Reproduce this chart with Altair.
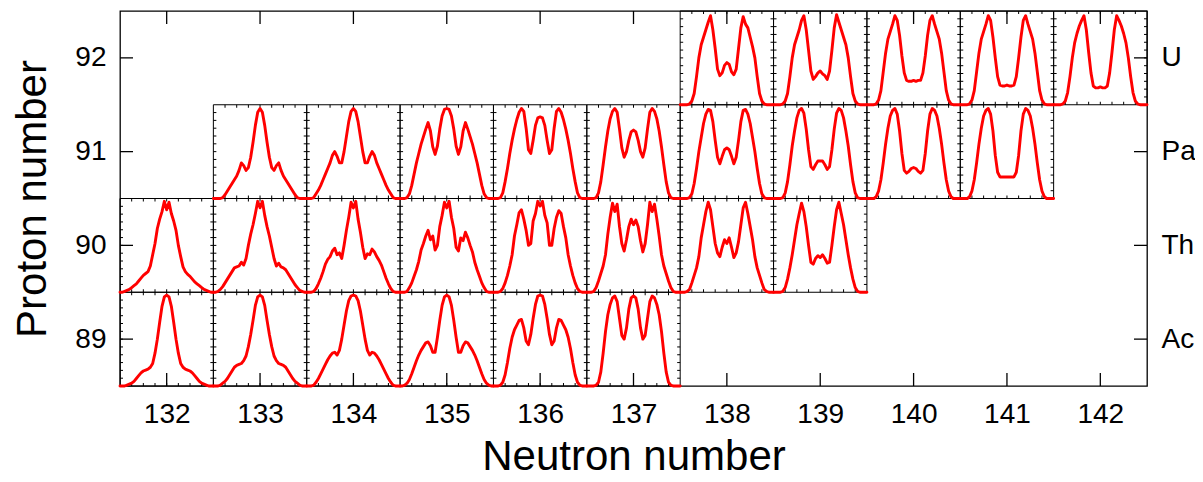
import altair as alt
import pandas as pd

# ---------------- data ----------------
neutron_ticks = list(range(132, 143))
proton_ticks = [89, 90, 91, 92]
element_symbols = ["Ac", "Th", "Pa", "U"]

# curves: value (fraction of cell height) sampled evenly across each cell
ac132 = [0,0,0,0.01,0.02,0.03,0.05,0.08,0.11,0.14,0.16,0.17,0.18,0.2,0.24,0.35,0.5,0.68,0.85,0.95,0.97,0.95,0.85,0.68,0.5,0.35,0.24,0.2,0.18,0.17,0.16,0.14,0.11,0.08,0.05,0.03,0.02,0.01,0,0,0]
ac133 = [0,0,0,0.01,0.03,0.05,0.08,0.12,0.16,0.2,0.22,0.23,0.24,0.27,0.32,0.42,0.55,0.7,0.86,0.95,0.97,0.95,0.86,0.7,0.55,0.42,0.32,0.27,0.24,0.23,0.22,0.2,0.16,0.12,0.08,0.05,0.03,0.01,0,0,0]
ac134 = [0,0,0,0.01,0.04,0.08,0.13,0.18,0.23,0.28,0.32,0.35,0.36,0.33,0.38,0.5,0.65,0.8,0.91,0.96,0.97,0.96,0.91,0.8,0.65,0.5,0.38,0.33,0.36,0.35,0.32,0.28,0.23,0.18,0.13,0.08,0.04,0.01,0,0,0]
ac135 = [0,0,0.01,0.03,0.07,0.13,0.2,0.27,0.33,0.38,0.42,0.46,0.47,0.43,0.36,0.36,0.52,0.7,0.86,0.95,0.97,0.95,0.86,0.7,0.52,0.36,0.36,0.43,0.47,0.46,0.42,0.38,0.33,0.27,0.2,0.13,0.07,0.03,0.01,0,0]
ac136 = [0,0,0,0.01,0.04,0.12,0.25,0.4,0.52,0.6,0.65,0.7,0.71,0.62,0.48,0.44,0.55,0.72,0.87,0.96,0.97,0.96,0.87,0.72,0.55,0.44,0.48,0.62,0.71,0.7,0.65,0.6,0.52,0.4,0.25,0.12,0.04,0.01,0,0,0]
ac137 = [0,0,0,0,0.01,0.04,0.15,0.35,0.58,0.76,0.87,0.94,0.96,0.9,0.72,0.54,0.5,0.62,0.82,0.94,0.96,0.94,0.82,0.62,0.5,0.54,0.72,0.9,0.96,0.94,0.87,0.76,0.58,0.35,0.15,0.04,0.01,0,0,0,0]

th132 = [0,0,0.01,0.02,0.03,0.05,0.07,0.09,0.12,0.15,0.18,0.2,0.22,0.28,0.4,0.52,0.68,0.78,0.86,0.97,0.88,0.96,0.84,0.76,0.66,0.5,0.38,0.27,0.22,0.19,0.17,0.14,0.11,0.09,0.07,0.05,0.03,0.02,0.01,0,0]
th133 = [0,0,0.01,0.03,0.06,0.1,0.14,0.18,0.22,0.26,0.27,0.28,0.32,0.29,0.36,0.5,0.62,0.72,0.84,0.97,0.9,0.97,0.82,0.7,0.6,0.48,0.36,0.28,0.31,0.27,0.26,0.24,0.2,0.16,0.12,0.08,0.05,0.02,0.01,0,0]
th134 = [0,0,0,0.01,0.04,0.09,0.15,0.22,0.3,0.35,0.38,0.44,0.47,0.4,0.42,0.36,0.5,0.66,0.8,0.96,0.9,0.97,0.78,0.64,0.48,0.36,0.41,0.4,0.46,0.43,0.38,0.34,0.29,0.22,0.15,0.09,0.04,0.01,0,0,0]
th135 = [0,0,0,0.01,0.05,0.1,0.17,0.24,0.33,0.45,0.52,0.6,0.66,0.56,0.6,0.45,0.5,0.7,0.82,0.96,0.9,0.97,0.8,0.68,0.48,0.44,0.58,0.55,0.64,0.58,0.5,0.43,0.32,0.24,0.17,0.1,0.05,0.01,0,0,0]
th136 = [0,0,0,0.01,0.04,0.1,0.18,0.28,0.4,0.6,0.72,0.85,0.88,0.78,0.66,0.5,0.52,0.76,0.84,0.97,0.92,0.97,0.82,0.74,0.5,0.5,0.68,0.8,0.87,0.84,0.7,0.58,0.4,0.28,0.18,0.1,0.04,0.01,0,0,0]
th137 = [0,0,0,0.01,0.05,0.12,0.2,0.28,0.4,0.62,0.8,0.95,0.86,0.94,0.7,0.52,0.44,0.56,0.7,0.78,0.72,0.77,0.7,0.55,0.43,0.52,0.72,0.96,0.86,0.94,0.78,0.6,0.4,0.28,0.2,0.12,0.05,0.01,0,0,0]
th138 = [0,0,0,0.01,0.03,0.1,0.18,0.26,0.38,0.58,0.72,0.86,0.96,0.88,0.7,0.52,0.42,0.38,0.48,0.56,0.52,0.58,0.48,0.37,0.42,0.54,0.72,0.9,0.96,0.84,0.7,0.56,0.38,0.26,0.18,0.1,0.03,0.01,0,0,0]
th139 = [0,0,0,0,0.01,0.05,0.14,0.26,0.4,0.56,0.72,0.84,0.95,0.86,0.7,0.5,0.32,0.3,0.36,0.39,0.37,0.4,0.36,0.31,0.32,0.5,0.7,0.88,0.96,0.84,0.72,0.56,0.4,0.26,0.14,0.05,0.01,0,0,0,0]

pa133 = [0,0,0,0,0.01,0.04,0.08,0.12,0.16,0.2,0.24,0.3,0.38,0.35,0.3,0.33,0.44,0.6,0.78,0.92,0.96,0.92,0.78,0.6,0.44,0.33,0.3,0.35,0.38,0.3,0.24,0.2,0.16,0.12,0.08,0.04,0.01,0,0,0,0]
pa134 = [0,0,0,0.01,0.05,0.09,0.14,0.2,0.26,0.32,0.38,0.46,0.5,0.45,0.38,0.38,0.5,0.66,0.82,0.93,0.96,0.93,0.82,0.66,0.5,0.38,0.38,0.45,0.5,0.46,0.38,0.32,0.26,0.2,0.14,0.09,0.05,0.01,0,0,0]
pa135 = [0,0,0,0.01,0.05,0.14,0.26,0.38,0.48,0.58,0.66,0.74,0.81,0.72,0.55,0.47,0.56,0.74,0.88,0.95,0.96,0.95,0.88,0.74,0.56,0.47,0.55,0.72,0.81,0.74,0.66,0.58,0.48,0.38,0.26,0.14,0.05,0.01,0,0,0]
pa136 = [0,0,0,0.01,0.06,0.18,0.32,0.48,0.62,0.74,0.84,0.92,0.96,0.93,0.75,0.52,0.48,0.62,0.78,0.86,0.87,0.86,0.78,0.62,0.48,0.52,0.75,0.93,0.96,0.92,0.84,0.74,0.62,0.48,0.32,0.18,0.06,0.01,0,0,0]
pa137 = [0,0,0,0,0.01,0.06,0.18,0.36,0.55,0.72,0.85,0.93,0.96,0.92,0.74,0.54,0.44,0.5,0.62,0.71,0.73,0.71,0.62,0.5,0.44,0.54,0.74,0.92,0.96,0.93,0.85,0.72,0.55,0.36,0.18,0.06,0.01,0,0,0,0]
pa138 = [0,0,0,0,0.01,0.05,0.16,0.32,0.5,0.65,0.8,0.9,0.95,0.94,0.82,0.62,0.44,0.37,0.45,0.52,0.54,0.52,0.45,0.37,0.44,0.62,0.82,0.94,0.95,0.9,0.8,0.65,0.5,0.32,0.16,0.05,0.01,0,0,0,0]
pa139 = [0,0,0,0,0.01,0.06,0.18,0.36,0.56,0.72,0.86,0.94,0.96,0.91,0.74,0.52,0.34,0.31,0.36,0.4,0.4,0.4,0.36,0.31,0.34,0.52,0.74,0.91,0.96,0.94,0.86,0.72,0.56,0.36,0.18,0.06,0.01,0,0,0,0]
pa140 = [0,0,0,0,0.02,0.08,0.2,0.38,0.58,0.75,0.88,0.94,0.96,0.9,0.72,0.48,0.3,0.27,0.29,0.32,0.33,0.32,0.29,0.27,0.3,0.48,0.72,0.9,0.96,0.94,0.88,0.75,0.58,0.38,0.2,0.08,0.02,0,0,0,0]
pa141 = [0,0,0,0,0.02,0.08,0.2,0.38,0.58,0.75,0.88,0.94,0.96,0.9,0.72,0.46,0.28,0.23,0.23,0.23,0.23,0.23,0.23,0.23,0.28,0.46,0.72,0.9,0.96,0.94,0.88,0.75,0.58,0.38,0.2,0.08,0.02,0,0,0,0]

u138 = [0,0,0,0,0.01,0.04,0.12,0.3,0.5,0.64,0.72,0.8,0.88,0.95,0.8,0.6,0.38,0.31,0.34,0.42,0.45,0.43,0.35,0.32,0.38,0.6,0.82,0.94,0.86,0.82,0.72,0.62,0.5,0.3,0.12,0.04,0.01,0,0,0,0]
u139 = [0,0,0,0,0.01,0.04,0.12,0.3,0.5,0.64,0.72,0.8,0.9,0.95,0.8,0.58,0.36,0.27,0.3,0.34,0.36,0.33,0.31,0.27,0.36,0.58,0.82,0.96,0.88,0.8,0.72,0.64,0.5,0.3,0.12,0.04,0.01,0,0,0,0]
u140 = [0,0,0,0,0.01,0.05,0.15,0.35,0.55,0.7,0.78,0.86,0.95,0.9,0.74,0.52,0.34,0.26,0.25,0.25,0.26,0.25,0.26,0.26,0.34,0.52,0.74,0.9,0.95,0.86,0.78,0.7,0.55,0.35,0.15,0.05,0.01,0,0,0,0]
u141 = [0,0,0,0,0.01,0.05,0.15,0.35,0.55,0.7,0.78,0.86,0.95,0.9,0.72,0.5,0.3,0.21,0.2,0.2,0.21,0.2,0.2,0.21,0.3,0.5,0.72,0.9,0.95,0.86,0.78,0.7,0.55,0.35,0.15,0.05,0.01,0,0,0,0]
u142 = [0,0,0,0,0.01,0.04,0.13,0.3,0.5,0.66,0.76,0.84,0.9,0.95,0.8,0.56,0.34,0.2,0.18,0.18,0.19,0.18,0.18,0.2,0.34,0.56,0.8,0.95,0.9,0.84,0.76,0.66,0.5,0.3,0.13,0.04,0.01,0,0,0,0]

cells = [
    (132, 89, ac132), (133, 89, ac133), (134, 89, ac134), (135, 89, ac135), (136, 89, ac136), (137, 89, ac137),
    (132, 90, th132), (133, 90, th133), (134, 90, th134), (135, 90, th135), (136, 90, th136), (137, 90, th137),
    (138, 90, th138), (139, 90, th139),
    (133, 91, pa133), (134, 91, pa134), (135, 91, pa135), (136, 91, pa136), (137, 91, pa137), (138, 91, pa138),
    (139, 91, pa139), (140, 91, pa140), (141, 91, pa141),
    (138, 92, u138), (139, 92, u139), (140, 92, u140), (141, 92, u141), (142, 92, u142),
]

# ---------------- tables ----------------
curve_rows = []
for n, z, vals in cells:
    m = len(vals) - 1
    for i, v in enumerate(vals):
        curve_rows.append({"cell": f"{n}-{z}", "i": i, "x": n - 0.5 + i / m, "y": z - 0.5 + v})
curve_df = pd.DataFrame(curve_rows)

cell_df = pd.DataFrame([{"x0": n - 0.5, "x1": n + 0.5, "y0": z - 0.5, "y1": z + 0.5} for n, z, _ in cells])

XMIN, XMAX = neutron_ticks[0] - 0.5, neutron_ticks[-1] + 0.5
YMIN, YMAX = proton_ticks[0] - 0.5, proton_ticks[-1] + 0.5
W, H = 1027, 375
ux = (XMAX - XMIN) / W  # data units per pixel
uy = (YMAX - YMIN) / H

major = []
for n in neutron_ticks:
    major.append({"x0": n, "x1": n, "y0": YMIN, "y1": YMIN + 13 * uy})
    major.append({"x0": n, "x1": n, "y0": YMAX, "y1": YMAX - 13 * uy})
for z in proton_ticks:
    major.append({"x0": XMIN, "x1": XMIN + 13 * ux, "y0": z, "y1": z})
    major.append({"x0": XMAX, "x1": XMAX - 13 * ux, "y0": z, "y1": z})
major_df = pd.DataFrame(major)

minor = []
for n, z, _ in cells:
    for k in range(1, 8):
        xx = n - 0.5 + k / 8
        minor.append({"x0": xx, "x1": xx, "y0": z - 0.5, "y1": z - 0.5 + 3 * uy})
        minor.append({"x0": xx, "x1": xx, "y0": z + 0.5, "y1": z + 0.5 - 3 * uy})
    for k in range(1, 12):
        yy = z - 0.5 + k / 12
        minor.append({"x0": n - 0.5, "x1": n - 0.5 + 3 * ux, "y0": yy, "y1": yy})
        minor.append({"x0": n + 0.5, "x1": n + 0.5 - 3 * ux, "y0": yy, "y1": yy})
minor_df = pd.DataFrame(minor)

# ---------------- chart ----------------
FONT_LBL = "Liberation Sans Narrow, Liberation Sans, sans-serif"
FONT_TTL = "Liberation Sans, sans-serif"
xs = alt.Scale(domain=[XMIN, XMAX], nice=False, zero=False)
ys = alt.Scale(domain=[YMIN, YMAX], nice=False, zero=False)

x_axis = alt.Axis(values=neutron_ticks, title="Neutron number", format="d", ticks=False, domain=False, grid=False,
                  orient="bottom", labelFont=FONT_LBL, labelFontSize=28, labelColor="black", labelPadding=14,
                  titleFont=FONT_TTL, titleFontSize=42, titleFontWeight="normal", titleColor="black", titlePadding=8)
y_axis = alt.Axis(values=proton_ticks, title="Proton number", format="d", ticks=False, domain=False, grid=False,
                  orient="left", labelFont=FONT_LBL, labelFontSize=28, labelColor="black", labelPadding=14,
                  titleFont=FONT_TTL, titleFontSize=42, titleFontWeight="normal", titleColor="black", titlePadding=20)
sym_expr = " : ".join(f"datum.value == {z} ? '{s}'" for z, s in zip(proton_ticks, element_symbols)) + " : ''"
y_axis_r = alt.Axis(values=proton_ticks, title=None, ticks=False, domain=False, grid=False, orient="right",
                    labelExpr=sym_expr, labelFont=FONT_LBL, labelFontSize=28, labelColor="black", labelPadding=14)

boxes = alt.Chart(cell_df).mark_rect(fill="transparent", stroke="black", strokeWidth=1).encode(
    x=alt.X("x0:Q", scale=xs, axis=x_axis), x2="x1", y=alt.Y("y0:Q", scale=ys, axis=y_axis), y2="y1")

minor_ticks = alt.Chart(minor_df).mark_rule(color="black", strokeWidth=1).encode(
    x=alt.X("x0:Q", scale=xs, axis=None), x2="x1", y=alt.Y("y0:Q", scale=ys, axis=None), y2="y1")

major_ticks = alt.Chart(major_df).mark_rule(color="black", strokeWidth=1.3).encode(
    x=alt.X("x0:Q", scale=xs, axis=None), x2="x1", y=alt.Y("y0:Q", scale=ys, axis=None), y2="y1")

curves = alt.Chart(curve_df).mark_line(color="#ff0000", strokeWidth=2.9, strokeJoin="round", strokeCap="round").encode(
    x=alt.X("x:Q", scale=xs, axis=None), y=alt.Y("y:Q", scale=ys, axis=y_axis_r),
    detail="cell:N", order="i:Q")

chart = alt.layer(boxes, minor_ticks, major_ticks, curves).resolve_axis(x="independent", y="independent").properties(
    width=W, height=H,
    autosize=alt.AutoSizeParams(type="none"),
    padding={"left": 112, "top": 3, "right": 48, "bottom": 94},
).configure_view(stroke="black", strokeWidth=1.3)

chart.save("out.html", embed_options={"renderer": "svg", "actions": False})
